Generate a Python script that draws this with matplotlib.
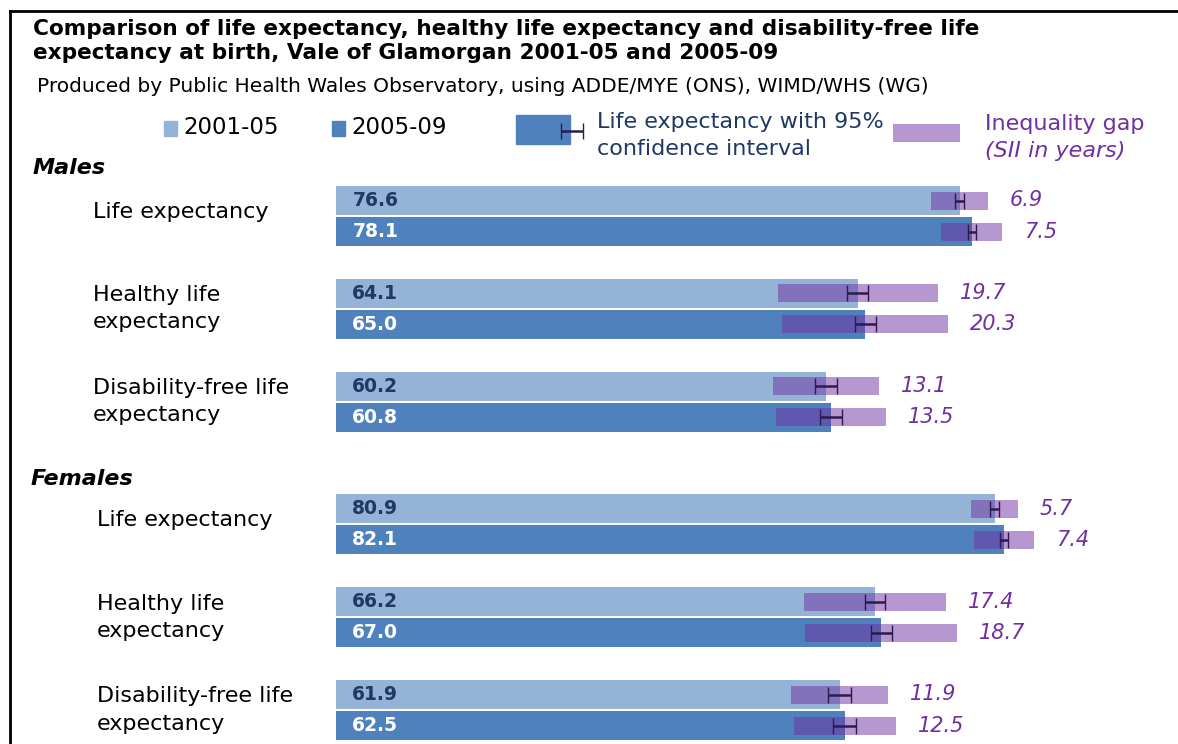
import matplotlib
matplotlib.use('Agg')
import matplotlib.pyplot as plt

# Dados
sections = ['Males', 'Females']
measures = ['Life expectancy', 'Healthy life\nexpectancy', 'Disability-free life\nexpectancy']
periods = ['2001-05', '2005-09']

# valores (anos) por secção: [medida][periodo]
males_values = [[76.6, 78.1], [64.1, 65.0], [60.2, 60.8]]
females_values = [[80.9, 82.1], [66.2, 67.0], [61.9, 62.5]]
# meia largura do intervalo de confiança 95%
males_ci = [[0.5, 0.5], [1.3, 1.3], [1.3, 1.4]]
females_ci = [[0.5, 0.5], [1.25, 1.3], [1.4, 1.4]]
# gap de desigualdade (SII em anos)
males_sii = [[6.9, 7.5], [19.7, 20.3], [13.1, 13.5]]
females_sii = [[5.7, 7.4], [17.4, 18.7], [11.9, 12.5]]

values = [males_values, females_values]
cis = [males_ci, females_ci]
siis = [males_sii, females_sii]

light = '#95b3d7'
dark = '#4f81bd'
purple = '#7030a0'
navy = '#1f3864'
errc = '#2d1b4e'

W, H = 1178, 744
fig = plt.figure(figsize=(W / 100, H / 100), dpi=100)

# eixo dos bares (x em anos, y em pixeis)
scale = 8.14
x0 = 336
ax = fig.add_axes([0, 0, 1, 1])
ax.set_xlim(-x0 / scale, (W - x0) / scale)
ax.set_ylim(H, 0)
ax.axis('off')

# eixo para texto em pixeis
tx = fig.add_axes([0, 0, 1, 1], facecolor='none')
tx.set_xlim(0, W)
tx.set_ylim(H, 0)
tx.axis('off')

# moldura
tx.plot([10, W], [11, 11], color='black', lw=2, clip_on=False)
tx.plot([10, 10], [11, H], color='black', lw=2, clip_on=False)

tx.text(33, 41, 'Comparison of life expectancy, healthy life expectancy and disability-free life\n'
        'expectancy at birth, Vale of Glamorgan 2001-05 and 2005-09',
        fontsize=15.6, fontweight='bold', va='center', ha='left', linespacing=1.2)
tx.text(37, 86, 'Produced by Public Health Wales Observatory, using ADDE/MYE (ONS), WIMD/WHS (WG)',
        fontsize=14.5, va='center', ha='left')

# legenda
tx.add_patch(plt.Rectangle((164, 121), 13, 15, color=light))
tx.text(183, 128, periods[0], fontsize=16.5, va='center')
tx.add_patch(plt.Rectangle((332, 121), 13, 15, color=dark))
tx.text(351, 128, periods[1], fontsize=16.5, va='center')
tx.add_patch(plt.Rectangle((516, 115), 54, 29, color=dark))
tx.errorbar([572], [131], xerr=[[11], [11]], fmt='none', ecolor=errc, elinewidth=1.8, capsize=6)
tx.text(597, 122, 'Life expectancy with 95%', fontsize=16, color=navy, va='center')
tx.text(597, 149, 'confidence interval', fontsize=16, color=navy, va='center')
tx.add_patch(plt.Rectangle((893, 124), 67, 18, color=purple, alpha=0.5, lw=0))
tx.text(985, 124, 'Inequality gap', fontsize=16, color=purple, va='center')
tx.text(985, 151, '(SII in years)', fontsize=16, color=purple, style='italic', va='center')

pitch = 92.8
bar_h = 29
sec_y = [168, 479]
label_x = [93, 97]
for s, sec in enumerate(sections):
    tx.text(33 if s == 0 else 31, sec_y[s], sec, fontsize=16, fontweight='bold', style='italic', va='center')
    for g, m in enumerate(measures):
        top = 186 + (3 * s + g) * pitch + s * 30
        ly = top + 30 if '\n' in m else top + 26
        tx.text(label_x[s], ly, m, fontsize=16, va='center', ha='left', linespacing=1.45)
        for p in range(2):
            yc = top + 14.5 + p * 31
            v = values[s][g][p]
            ax.barh(yc, v, height=bar_h, left=0, color=light if p == 0 else dark, lw=0)
            sii = siis[s][g][p]
            ax.barh(yc, sii, height=18, left=v - sii / 2, color=purple, alpha=0.5, lw=0)
            ax.errorbar([v], [yc], xerr=cis[s][g][p], fmt='none', ecolor=errc,
                        elinewidth=1.8, capsize=6)
            ax.text(2, yc, '%.1f' % v, fontsize=13.5, fontweight='bold',
                    color=navy if p == 0 else 'white', va='center', ha='left')
            ax.text(v + sii / 2 + 2.7, yc, '%.1f' % sii, fontsize=15, style='italic',
                    color=purple, va='center', ha='left')

fig.savefig('out.png', dpi=100)
